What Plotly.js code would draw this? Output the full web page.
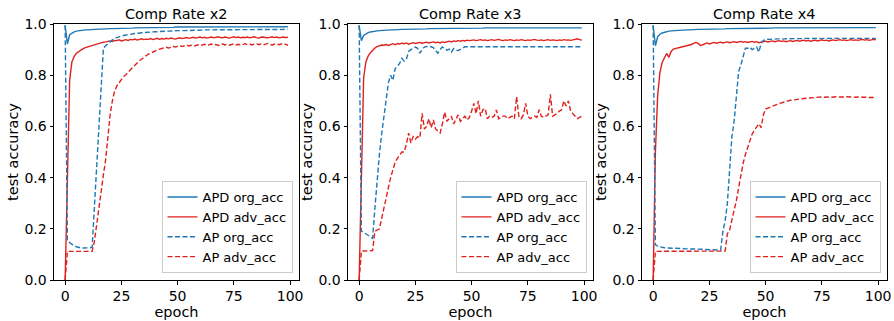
<!DOCTYPE html>
<html>
<head>
<meta charset="utf-8">
<script src="https://cdn.plot.ly/plotly-3.0.1.min.js"></script>
<style>html,body{margin:0;padding:0;background:#fff;}#chart{width:894px;height:321px;}</style>
</head>
<body>
<div id="chart"></div>
<script>
// ---------- data ----------
const subplotTitles = ["Comp Rate x2", "Comp Rate x3", "Comp Rate x4"];
const seriesNames = ["APD org_acc", "APD adv_acc", "AP org_acc", "AP adv_acc"];
const xTicks = [0, 25, 50, 75, 100];
const yTicks = [0.0, 0.2, 0.4, 0.6, 0.8, 1.0];

// Comp Rate x2
const x2_apd_org = [
0.995,0.922,0.958,0.965,0.969,0.972,0.974,0.975,0.976,0.977,
0.977,0.978,0.978,0.979,0.979,0.980,0.980,0.981,0.981,0.981,
0.982,0.982,0.982,0.983,0.983,0.983,0.983,0.984,0.984,0.984,
0.984,0.985,0.985,0.985,0.985,0.985,0.986,0.986,0.986,0.986,
0.986,0.986,0.987,0.987,0.987,0.987,0.987,0.987,0.987,0.988,
0.988,0.988,0.988,0.988,0.988,0.988,0.988,0.988,0.988,0.988,
0.988,0.988,0.988,0.988,0.988,0.989,0.988,0.988,0.989,0.988,
0.989,0.988,0.989,0.989,0.988,0.989,0.989,0.989,0.988,0.989,
0.989,0.989,0.989,0.989,0.989,0.989,0.989,0.989,0.989,0.989,
0.989,0.989,0.989,0.989,0.989,0.989,0.989,0.989,0.989,0.989];
const x2_apd_adv = [
0.000,0.400,0.780,0.852,0.873,0.886,0.893,0.899,0.904,0.908,
0.911,0.914,0.917,0.920,0.922,0.925,0.927,0.929,0.930,0.932,
0.934,0.932,0.936,0.935,0.938,0.934,0.937,0.939,0.936,0.940,
0.938,0.941,0.937,0.940,0.942,0.939,0.941,0.940,0.943,0.939,
0.942,0.944,0.940,0.943,0.941,0.944,0.942,0.945,0.943,0.941,
0.944,0.946,0.943,0.945,0.947,0.944,0.946,0.948,0.945,0.947,
0.949,0.946,0.948,0.945,0.947,0.949,0.946,0.948,0.950,0.947,
0.946,0.949,0.947,0.945,0.948,0.950,0.947,0.949,0.946,0.948,
0.947,0.949,0.946,0.948,0.950,0.947,0.945,0.948,0.949,0.947,
0.946,0.948,0.950,0.947,0.949,0.946,0.948,0.949,0.947,0.948];
const x2_ap_org = [
0.995,0.154,0.146,0.139,0.134,0.130,0.127,0.125,0.125,0.125,
0.126,0.126,0.128,0.280,0.440,0.600,0.750,0.905,0.915,0.924,
0.932,0.938,0.943,0.947,0.950,0.953,0.955,0.957,0.959,0.961,
0.962,0.963,0.964,0.965,0.966,0.967,0.967,0.968,0.969,0.969,
0.970,0.970,0.971,0.971,0.972,0.972,0.972,0.973,0.973,0.973,
0.974,0.974,0.974,0.975,0.975,0.975,0.975,0.976,0.976,0.976,
0.976,0.976,0.977,0.977,0.977,0.977,0.977,0.977,0.978,0.978,
0.978,0.978,0.978,0.978,0.978,0.978,0.978,0.978,0.978,0.978,
0.978,0.978,0.979,0.979,0.979,0.979,0.979,0.979,0.979,0.979,
0.979,0.979,0.979,0.979,0.979,0.979,0.979,0.979,0.979,0.979];
const x2_ap_adv = [
0.000,0.112,0.112,0.112,0.112,0.112,0.112,0.112,0.112,0.112,
0.112,0.112,0.112,0.150,0.220,0.290,0.350,0.410,0.470,0.570,
0.645,0.700,0.738,0.758,0.772,0.785,0.795,0.802,0.812,0.822,
0.832,0.841,0.848,0.856,0.864,0.870,0.876,0.882,0.887,0.892,
0.896,0.899,0.902,0.905,0.907,0.909,0.906,0.911,0.913,0.910,
0.913,0.916,0.912,0.915,0.918,0.914,0.917,0.913,0.916,0.919,
0.915,0.918,0.921,0.916,0.919,0.922,0.917,0.920,0.916,0.919,
0.922,0.918,0.921,0.917,0.920,0.923,0.918,0.921,0.917,0.920,
0.923,0.919,0.922,0.918,0.921,0.924,0.919,0.922,0.918,0.921,
0.924,0.920,0.917,0.921,0.923,0.919,0.922,0.925,0.920,0.917];

// Comp Rate x3
const x3_apd_org = [
0.995,0.935,0.955,0.962,0.966,0.969,0.971,0.972,0.973,0.974,
0.975,0.975,0.976,0.976,0.977,0.977,0.978,0.978,0.978,0.979,
0.979,0.979,0.980,0.980,0.980,0.980,0.981,0.981,0.981,0.981,
0.981,0.982,0.982,0.982,0.982,0.982,0.983,0.983,0.983,0.983,
0.983,0.983,0.983,0.984,0.984,0.984,0.984,0.984,0.984,0.984,
0.984,0.984,0.984,0.984,0.984,0.984,0.985,0.984,0.985,0.985,
0.985,0.985,0.985,0.985,0.985,0.985,0.985,0.985,0.985,0.985,
0.985,0.985,0.985,0.985,0.985,0.985,0.985,0.985,0.985,0.985,
0.985,0.985,0.985,0.985,0.985,0.985,0.985,0.985,0.985,0.985,
0.985,0.985,0.985,0.985,0.985,0.985,0.985,0.985,0.985,0.985];
const x3_apd_adv = [
0.000,0.450,0.790,0.852,0.875,0.888,0.898,0.906,0.912,0.915,
0.918,0.917,0.920,0.916,0.921,0.923,0.919,0.924,0.922,0.925,
0.923,0.926,0.921,0.925,0.927,0.924,0.926,0.928,0.925,0.927,
0.929,0.926,0.928,0.930,0.927,0.929,0.926,0.930,0.928,0.931,
0.933,0.930,0.934,0.932,0.935,0.933,0.936,0.934,0.937,0.935,
0.936,0.938,0.935,0.937,0.939,0.936,0.938,0.935,0.937,0.939,
0.936,0.938,0.940,0.937,0.935,0.938,0.936,0.939,0.937,0.935,
0.938,0.936,0.939,0.937,0.935,0.938,0.936,0.938,0.940,0.937,
0.936,0.938,0.935,0.937,0.939,0.936,0.938,0.937,0.935,0.938,
0.936,0.939,0.937,0.938,0.936,0.938,0.940,0.942,0.939,0.937];
const x3_ap_org = [
0.995,0.191,0.186,0.180,0.174,0.168,0.163,0.280,0.400,0.490,
0.570,0.640,0.710,0.770,0.800,0.780,0.825,0.838,0.846,0.866,
0.855,0.862,0.893,0.900,0.905,0.910,0.905,0.886,0.900,0.910,
0.912,0.913,0.911,0.908,0.897,0.886,0.900,0.910,0.904,0.898,
0.902,0.890,0.904,0.898,0.896,0.900,0.905,0.911,0.911,0.911,
0.911,0.911,0.911,0.911,0.911,0.911,0.911,0.911,0.911,0.911,
0.911,0.911,0.911,0.911,0.911,0.911,0.911,0.911,0.911,0.911,
0.911,0.911,0.911,0.911,0.911,0.911,0.911,0.911,0.911,0.911,
0.911,0.911,0.911,0.911,0.911,0.911,0.911,0.911,0.911,0.911,
0.911,0.911,0.911,0.911,0.911,0.911,0.911,0.911,0.911,0.911];
const x3_ap_adv = [
0.000,0.113,0.113,0.113,0.113,0.113,0.115,0.190,0.195,0.200,
0.240,0.280,0.325,0.360,0.400,0.430,0.460,0.475,0.490,0.500,
0.500,0.530,0.574,0.535,0.560,0.550,0.560,0.555,0.651,0.590,
0.600,0.630,0.595,0.625,0.590,0.580,0.574,0.610,0.656,0.620,
0.630,0.640,0.610,0.630,0.645,0.620,0.630,0.640,0.625,0.635,
0.660,0.690,0.650,0.700,0.640,0.665,0.670,0.630,0.640,0.635,
0.640,0.664,0.630,0.635,0.640,0.640,0.630,0.635,0.640,0.630,
0.716,0.640,0.630,0.645,0.690,0.640,0.630,0.635,0.640,0.635,
0.665,0.640,0.635,0.640,0.645,0.725,0.640,0.645,0.650,0.660,
0.665,0.700,0.680,0.700,0.660,0.650,0.640,0.630,0.635,0.640];

// Comp Rate x4
const x4_apd_org = [
0.995,0.915,0.950,0.960,0.965,0.968,0.970,0.972,0.973,0.974,
0.975,0.975,0.976,0.976,0.977,0.977,0.977,0.978,0.978,0.978,
0.979,0.979,0.979,0.979,0.980,0.980,0.980,0.980,0.981,0.981,
0.981,0.981,0.981,0.982,0.982,0.982,0.982,0.982,0.982,0.983,
0.983,0.983,0.983,0.983,0.983,0.983,0.984,0.984,0.984,0.984,
0.984,0.984,0.984,0.984,0.985,0.985,0.985,0.985,0.985,0.985,
0.985,0.985,0.985,0.985,0.985,0.985,0.985,0.986,0.986,0.986,
0.986,0.986,0.986,0.986,0.986,0.986,0.986,0.986,0.986,0.986,
0.986,0.986,0.986,0.986,0.986,0.986,0.986,0.986,0.986,0.986,
0.986,0.986,0.986,0.986,0.986,0.986,0.986,0.986,0.986,0.986];
const x4_apd_adv = [
0.000,0.500,0.720,0.810,0.850,0.870,0.885,0.870,0.893,0.902,
0.905,0.907,0.909,0.911,0.913,0.915,0.917,0.920,0.924,0.928,
0.924,0.916,0.919,0.923,0.926,0.922,0.925,0.928,0.925,0.927,
0.929,0.926,0.928,0.930,0.927,0.929,0.931,0.928,0.930,0.932,
0.929,0.931,0.928,0.930,0.932,0.929,0.931,0.927,0.929,0.931,
0.933,0.930,0.932,0.934,0.931,0.933,0.935,0.932,0.934,0.931,
0.933,0.935,0.932,0.934,0.936,0.933,0.935,0.937,0.934,0.936,
0.933,0.935,0.937,0.934,0.936,0.938,0.935,0.937,0.934,0.936,
0.938,0.935,0.937,0.939,0.936,0.938,0.935,0.937,0.939,0.936,
0.938,0.936,0.938,0.940,0.937,0.939,0.936,0.938,0.940,0.938];
const x4_ap_org = [
0.995,0.137,0.132,0.129,0.127,0.126,0.125,0.125,0.124,0.124,
0.124,0.123,0.123,0.123,0.122,0.122,0.122,0.121,0.121,0.121,
0.120,0.120,0.120,0.119,0.119,0.119,0.118,0.118,0.118,0.117,
0.117,0.190,0.230,0.300,0.450,0.560,0.620,0.720,0.814,0.840,
0.870,0.905,0.905,0.910,0.900,0.905,0.910,0.890,0.925,0.936,
0.940,0.941,0.940,0.942,0.941,0.942,0.943,0.942,0.941,0.943,
0.942,0.943,0.942,0.943,0.943,0.942,0.943,0.944,0.943,0.942,
0.943,0.944,0.943,0.943,0.944,0.943,0.944,0.943,0.944,0.944,
0.943,0.944,0.944,0.943,0.944,0.944,0.943,0.944,0.944,0.944,
0.943,0.944,0.944,0.944,0.943,0.944,0.944,0.944,0.944,0.944];
const x4_ap_adv = [
0.000,0.112,0.112,0.112,0.112,0.112,0.112,0.112,0.112,0.112,
0.112,0.112,0.112,0.112,0.112,0.112,0.112,0.112,0.112,0.112,
0.112,0.112,0.112,0.112,0.112,0.112,0.112,0.112,0.112,0.112,
0.112,0.112,0.113,0.180,0.195,0.235,0.270,0.310,0.360,0.410,
0.456,0.490,0.520,0.550,0.570,0.585,0.600,0.610,0.595,0.645,
0.668,0.672,0.676,0.680,0.683,0.686,0.689,0.692,0.695,0.698,
0.700,0.702,0.703,0.705,0.706,0.707,0.708,0.709,0.710,0.711,
0.712,0.713,0.713,0.714,0.714,0.715,0.714,0.715,0.715,0.714,
0.715,0.714,0.716,0.715,0.714,0.715,0.716,0.715,0.714,0.715,
0.714,0.715,0.716,0.714,0.715,0.714,0.713,0.714,0.713,0.713];

const panels = [
  [x2_apd_org, x2_apd_adv, x2_ap_org, x2_ap_adv],
  [x3_apd_org, x3_apd_adv, x3_ap_org, x3_ap_adv],
  [x4_apd_org, x4_apd_adv, x4_ap_org, x4_ap_adv]
];

// ---------- styling ----------
const FONT = "DejaVu Sans";
const BLUE = "#1f77b4";
const RED = "#e0201f";
const styles = [
  {color: BLUE, dash: "solid"},
  {color: RED, dash: "solid"},
  {color: BLUE, dash: "5px,2.5px"},
  {color: RED, dash: "5px,2.5px"}
];
const W = 894, H = 321;
const axLeft = [54, 348, 642], axWidth = 245, axTop = 24, axBottom = 280;

const traces = [];
const layout = {
  width: W, height: H,
  margin: {l: 0, r: 0, t: 0, b: 0},
  paper_bgcolor: "#fff", plot_bgcolor: "#fff",
  font: {family: FONT, color: "#000", size: 14},
  showlegend: true,
  annotations: []
};

panels.forEach((series, p) => {
  const sfx = p === 0 ? "" : String(p + 1);
  const legendId = "legend" + sfx;
  series.forEach((vals, i) => {
    traces.push({
      type: "scatter", mode: "lines",
      x: vals.map((_, k) => k), y: vals,
      name: seriesNames[i],
      xaxis: "x" + sfx, yaxis: "y" + sfx,
      legend: legendId,
      line: {color: styles[i].color, dash: styles[i].dash, width: 1.4},
      hoverinfo: "skip"
    });
  });
  const d0 = axLeft[p] / W, d1 = (axLeft[p] + axWidth) / W;
  layout["xaxis" + sfx] = {
    domain: [d0, d1], range: [-4.95, 103.95], anchor: "y" + sfx,
    tickvals: xTicks, ticktext: xTicks.map(String),
    showgrid: false, zeroline: false,
    showline: true, mirror: true, linecolor: "#000", linewidth: 1,
    ticks: "outside", ticklen: 3.5, tickwidth: 1, tickcolor: "#000",
    tickfont: {family: FONT, size: 14, color: "#000"},
    title: {text: "epoch", font: {family: FONT, size: 14.5, color: "#000"}, standoff: 0}
  };
  layout["yaxis" + sfx] = {
    domain: [1 - axBottom / H, 1 - axTop / H], range: [0, 1], anchor: "x" + sfx,
    tickvals: yTicks, ticktext: yTicks.map(v => v.toFixed(1)),
    showgrid: false, zeroline: false,
    showline: true, mirror: true, linecolor: "#000", linewidth: 1,
    ticks: "outside", ticklen: 3.5, tickwidth: 1, tickcolor: "#000",
    tickfont: {family: FONT, size: 14, color: "#000"},
    title: {text: "test accuracy", font: {family: FONT, size: 14.5, color: "#000"}, standoff: 2}
  };
  layout[legendId] = {
    x: (axLeft[p] + axWidth - 6.5) / W, xanchor: "right",
    y: (H - 273) / H, yanchor: "bottom",
    bgcolor: "rgba(255,255,255,0.8)", bordercolor: "#cccccc", borderwidth: 1,
    font: {family: FONT, size: 13, color: "#000"},
    tracegroupgap: 0, traceorder: "normal", itemwidth: 30
  };
  layout.annotations.push({
    text: subplotTitles[p], showarrow: false,
    xref: "paper", yref: "paper",
    x: (axLeft[p] + axWidth / 2) / W, xanchor: "center",
    y: 1 - 14 / H, yanchor: "middle",
    font: {family: FONT, size: 14.5, color: "#000"}
  });
});

Plotly.newPlot("chart", traces, layout, {displayModeBar: false, staticPlot: true});
</script>
</body>
</html>
